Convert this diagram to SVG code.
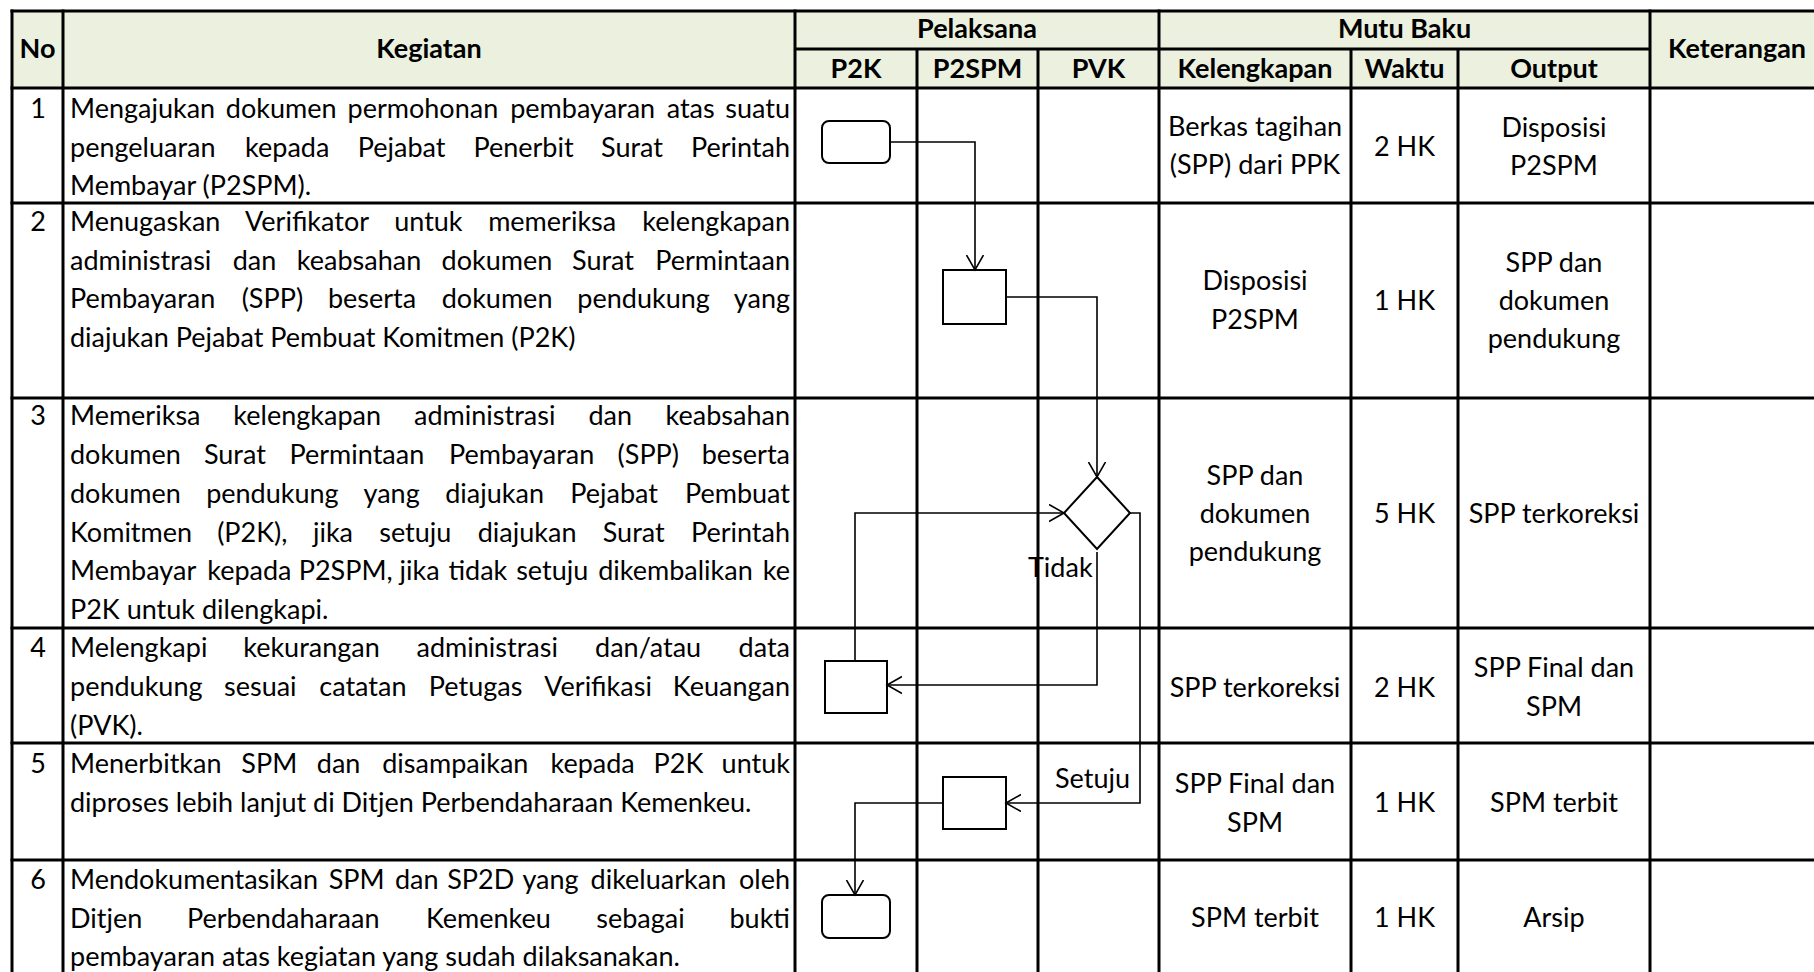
<svg xmlns="http://www.w3.org/2000/svg" width="1814" height="972" viewBox="0 0 1814 972">
<style>
.t{font-family:Lato,"Liberation Sans",sans-serif;font-size:27px;fill:#000}
.h{font-weight:bold}
.m{text-anchor:middle}
.e{text-anchor:end}
.grid line{stroke:#000;stroke-width:3}
.shape{fill:#fff;stroke:#000;stroke-width:2}
.conn path{fill:none;stroke:#000;stroke-width:1.6}
</style>
<defs>
<marker id="arr" markerUnits="userSpaceOnUse" markerWidth="18" markerHeight="20" refX="15" refY="9" orient="auto">
<path d="M0,0.5 L15,9 L0,17.5" fill="none" stroke="#000" stroke-width="1.6"/>
</marker>
</defs>
<rect x="0" y="0" width="1814" height="972" fill="#fff"/>
<rect x="12" y="11" width="1802" height="77" fill="#EBF1DE"/>
<g class="grid" id="grid">
<line x1="10.5" y1="11" x2="1814" y2="11"/>
<line x1="795" y1="49" x2="1650" y2="49"/>
<line x1="10.5" y1="88" x2="1814" y2="88"/>
<line x1="10.5" y1="203" x2="1814" y2="203"/>
<line x1="10.5" y1="398" x2="1814" y2="398"/>
<line x1="10.5" y1="628" x2="1814" y2="628"/>
<line x1="10.5" y1="743" x2="1814" y2="743"/>
<line x1="10.5" y1="860" x2="1814" y2="860"/>
<line x1="12" y1="9.5" x2="12" y2="972"/>
<line x1="63" y1="9.5" x2="63" y2="972"/>
<line x1="795" y1="9.5" x2="795" y2="972"/>
<line x1="917" y1="49" x2="917" y2="972"/>
<line x1="1038" y1="49" x2="1038" y2="972"/>
<line x1="1159" y1="9.5" x2="1159" y2="972"/>
<line x1="1351" y1="49" x2="1351" y2="972"/>
<line x1="1458" y1="49" x2="1458" y2="972"/>
<line x1="1650" y1="9.5" x2="1650" y2="972"/>
</g>
<g id="header" class="t h">
<text class="m" x="37.5" y="58">No</text>
<text class="m" x="429" y="58">Kegiatan</text>
<text class="m" x="977" y="38">Pelaksana</text>
<text class="m" x="1404.5" y="38">Mutu Baku</text>
<text class="m" x="1737" y="58">Keterangan</text>
<text class="m" x="856" y="78">P2K</text>
<text class="m" x="977.5" y="78">P2SPM</text>
<text class="m" x="1098.5" y="78">PVK</text>
<text class="m" x="1255" y="78">Kelengkapan</text>
<text class="m" x="1404.5" y="78">Waktu</text>
<text class="m" x="1554" y="78">Output</text>
</g>
<g id="row1" class="t">
<text class="m" x="38" y="118">1</text>
<text x="70" y="118">Mengajukan</text><text class="m" x="281.2" y="118">dokumen</text><text class="m" x="422.9" y="118">permohonan</text><text class="m" x="582.7" y="118">pembayaran</text><text class="m" x="690.7" y="118">atas</text><text class="e" x="790" y="118">suatu</text>
<text x="70" y="157">pengeluaran</text><text class="m" x="287.2" y="157">kepada</text><text class="m" x="401.6" y="157">Pejabat</text><text class="m" x="523.5" y="157">Penerbit</text><text class="m" x="632" y="157">Surat</text><text class="e" x="790" y="157">Perintah</text>
<text x="70" y="195">Membayar (P2SPM).</text>
<text class="m" x="1255" y="136">Berkas tagihan</text>
<text class="m" x="1255" y="174">(SPP) dari PPK</text>
<text class="m" x="1404.5" y="156">2 HK</text>
<text class="m" x="1554" y="137">Disposisi</text>
<text class="m" x="1554" y="175">P2SPM</text>
</g>
<g id="row2" class="t">
<text class="m" x="38" y="231">2</text>
<text x="70" y="231">Menugaskan</text><text class="m" x="307.1" y="231">Verifikator</text><text class="m" x="428.4" y="231">untuk</text><text class="m" x="552.2" y="231">memeriksa</text><text class="e" x="790" y="231">kelengkapan</text>
<text x="70" y="270">administrasi</text><text class="m" x="254.5" y="270">dan</text><text class="m" x="359" y="270">keabsahan</text><text class="m" x="496.9" y="270">dokumen</text><text class="m" x="603" y="270">Surat</text><text class="e" x="790" y="270">Permintaan</text>
<text x="70" y="308">Pembayaran</text><text class="m" x="272.4" y="308">(SPP)</text><text class="m" x="372.1" y="308">beserta</text><text class="m" x="497.1" y="308">dokumen</text><text class="m" x="643.6" y="308">pendukung</text><text class="e" x="790" y="308">yang</text>
<text x="70" y="347">diajukan Pejabat Pembuat Komitmen (P2K)</text>
<text class="m" x="1255" y="290">Disposisi</text>
<text class="m" x="1255" y="329">P2SPM</text>
<text class="m" x="1404.5" y="310">1 HK</text>
<text class="m" x="1554" y="272">SPP dan</text>
<text class="m" x="1554" y="310">dokumen</text>
<text class="m" x="1554" y="348">pendukung</text>
</g>
<g id="row3" class="t">
<text class="m" x="38" y="425">3</text>
<text x="70" y="425">Memeriksa</text><text class="m" x="307.2" y="425">kelengkapan</text><text class="m" x="484.7" y="425">administrasi</text><text class="m" x="610.2" y="425">dan</text><text class="e" x="790" y="425">keabsahan</text>
<text x="70" y="464">dokumen</text><text class="m" x="234.9" y="464">Surat</text><text class="m" x="356.9" y="464">Permintaan</text><text class="m" x="521.6" y="464">Pembayaran</text><text class="m" x="648.3" y="464">(SPP)</text><text class="e" x="790" y="464">beserta</text>
<text x="70" y="503">dokumen</text><text class="m" x="272.4" y="503">pendukung</text><text class="m" x="391.6" y="503">yang</text><text class="m" x="494.6" y="503">diajukan</text><text class="m" x="614.2" y="503">Pejabat</text><text class="e" x="790" y="503">Pembuat</text>
<text x="70" y="542">Komitmen</text><text class="m" x="252.3" y="542">(P2K),</text><text class="m" x="333" y="542">jika</text><text class="m" x="415.3" y="542">setuju</text><text class="m" x="527.1" y="542">diajukan</text><text class="m" x="633.7" y="542">Surat</text><text class="e" x="790" y="542">Perintah</text>
<text x="70" y="580">Membayar</text><text class="m" x="249.4" y="580">kepada</text><text class="m" x="345.7" y="580">P2SPM,</text><text class="m" x="419.6" y="580">jika</text><text class="m" x="477.9" y="580">tidak</text><text class="m" x="552.2" y="580">setuju</text><text class="m" x="675.5" y="580">dikembalikan</text><text class="e" x="790" y="580">ke</text>
<text x="70" y="619">P2K untuk dilengkapi.</text>
<text class="m" x="1255" y="485">SPP dan</text>
<text class="m" x="1255" y="523">dokumen</text>
<text class="m" x="1255" y="561">pendukung</text>
<text class="m" x="1404.5" y="523">5 HK</text>
<text class="m" x="1554" y="523">SPP terkoreksi</text>
</g>
<g id="row4" class="t">
<text class="m" x="38" y="657">4</text>
<text x="70" y="657">Melengkapi</text><text class="m" x="311.5" y="657">kekurangan</text><text class="m" x="487.2" y="657">administrasi</text><text class="m" x="648.1" y="657">dan/atau</text><text class="e" x="790" y="657">data</text>
<text x="70" y="696">pendukung</text><text class="m" x="260.3" y="696">sesuai</text><text class="m" x="362.9" y="696">catatan</text><text class="m" x="475.6" y="696">Petugas</text><text class="m" x="598.1" y="696">Verifikasi</text><text class="e" x="790" y="696">Keuangan</text>
<text x="70" y="735">(PVK).</text>
<text class="m" x="1255" y="697">SPP terkoreksi</text>
<text class="m" x="1404.5" y="697">2 HK</text>
<text class="m" x="1554" y="677">SPP Final dan</text>
<text class="m" x="1554" y="716">SPM</text>
</g>
<g id="row5" class="t">
<text class="m" x="38" y="773">5</text>
<text x="70" y="773">Menerbitkan</text><text class="m" x="269.3" y="773">SPM</text><text class="m" x="338.6" y="773">dan</text><text class="m" x="455.3" y="773">disampaikan</text><text class="m" x="592.6" y="773">kepada</text><text class="m" x="678.5" y="773">P2K</text><text class="e" x="790" y="773">untuk</text>
<text x="70" y="812">diproses lebih lanjut di Ditjen Perbendaharaan Kemenkeu.</text>
<text class="m" x="1255" y="793">SPP Final dan</text>
<text class="m" x="1255" y="832">SPM</text>
<text class="m" x="1404.5" y="812">1 HK</text>
<text class="m" x="1554" y="812">SPM terbit</text>
</g>
<g id="row6" class="t">
<text class="m" x="38" y="889">6</text>
<text x="70" y="889">Mendokumentasikan</text><text class="m" x="356.6" y="889">SPM</text><text class="m" x="416.7" y="889">dan</text><text class="m" x="480.7" y="889">SP2D</text><text class="m" x="550.5" y="889">yang</text><text class="m" x="658.4" y="889">dikeluarkan</text><text class="e" x="790" y="889">oleh</text>
<text x="70" y="928">Ditjen</text><text class="m" x="283.2" y="928">Perbendaharaan</text><text class="m" x="488.4" y="928">Kemenkeu</text><text class="m" x="640.5" y="928">sebagai</text><text class="e" x="790" y="928">bukti</text>
<text x="70" y="966">pembayaran atas kegiatan yang sudah dilaksanakan.</text>
<text class="m" x="1255" y="927">SPM terbit</text>
<text class="m" x="1404.5" y="927">1 HK</text>
<text class="m" x="1554" y="927">Arsip</text>
</g>
<g id="n1"><rect class="shape" x="822" y="121" width="68" height="42" rx="7"/></g>
<g id="n2"><rect class="shape" x="943" y="270" width="63" height="54"/></g>
<g id="n3"><polygon class="shape" points="1097,477 1130,513 1097,549 1064,513"/></g>
<g id="n4"><rect class="shape" x="825" y="661" width="62" height="52"/></g>
<g id="n5"><rect class="shape" x="943" y="777" width="63" height="52"/></g>
<g id="n6"><rect class="shape" x="822" y="895" width="68" height="43" rx="7"/></g>
<g id="connectors" class="conn">
<path d="M890,142 H975 V270" marker-end="url(#arr)"/>
<path d="M1006,297 H1097 V477" marker-end="url(#arr)"/>
<path d="M1097,552 V685 H887" marker-end="url(#arr)"/>
<path d="M855,661 V513 H1064" marker-end="url(#arr)"/>
<path d="M1130,513 H1140 V803 H1006" marker-end="url(#arr)"/>
<path d="M943,803 H855 V895" marker-end="url(#arr)"/>
</g>
<g id="labels" class="t">
<text x="1028" y="577">Tidak</text>
<text x="1055" y="788">Setuju</text>
</g>
</svg>
